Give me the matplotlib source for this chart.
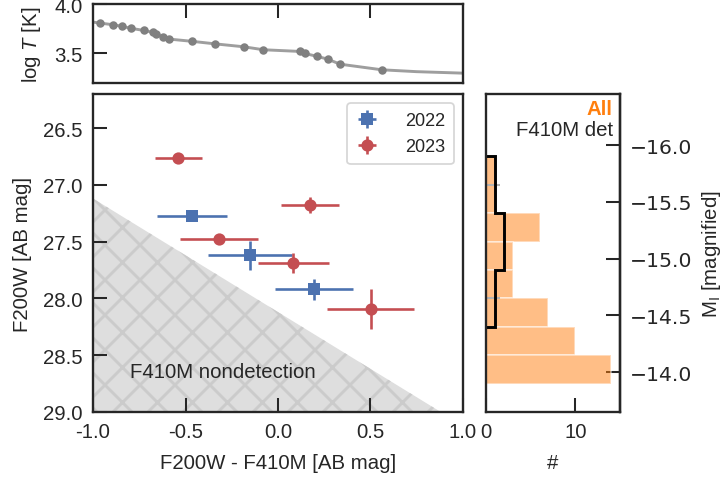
import numpy as np
import matplotlib
matplotlib.use('Agg')
import matplotlib.pyplot as plt
from matplotlib.ticker import FuncFormatter

# ========== 字体与样式 ==========
plt.rcParams['font.family'] = ['Liberation Sans', 'DejaVu Sans']
plt.rcParams['font.size'] = 7
plt.rcParams['axes.unicode_minus'] = False
plt.rcParams['mathtext.fontset'] = 'custom'
plt.rcParams['mathtext.rm'] = 'Liberation Sans'
plt.rcParams['mathtext.it'] = 'Liberation Sans:italic'
plt.rcParams['text.color'] = '0.15'
plt.rcParams['axes.labelcolor'] = '0.15'
plt.rcParams['xtick.color'] = '0.15'
plt.rcParams['ytick.color'] = '0.15'
plt.rcParams['axes.edgecolor'] = '0.15'
plt.rcParams['axes.linewidth'] = 0.8
plt.rcParams['hatch.linewidth'] = 1.0

# ========== 数据 ==========
# 2022 (方块)
col_2022 = [-0.465, -0.151, 0.196]
mag_2022 = [27.27, 27.62, 27.92]
xerr_2022 = [0.19, 0.228, 0.21]
yerr_2022 = [0.03, 0.13, 0.095]

# 2023 (圆点)
col_2023 = [-0.539, 0.173, -0.319, 0.083, 0.501]
mag_2023 = [26.76, 27.18, 27.48, 27.69, 28.09]
xerr_2023 = [0.127, 0.157, 0.21, 0.19, 0.236]
yerr_2023 = [0.03, 0.07, 0.04, 0.09, 0.175]

# F410M 探测极限
f410m_lim = 28.12

# 上图：温度 vs 颜色
track_col = [-1.0, -0.962, -0.890, -0.842, -0.796, -0.726, -0.676, -0.661, -0.620, -0.589,
             -0.463, -0.342, -0.185, -0.079, 0.117, 0.144, 0.211, 0.269, 0.335, 0.561, 0.75, 1.0]
track_logT = [3.817, 3.807, 3.790, 3.774, 3.754, 3.733, 3.713, 3.693, 3.668, 3.645,
              3.622, 3.597, 3.567, 3.537, 3.520, 3.500, 3.470, 3.442, 3.391, 3.334, 3.315, 3.300]
pt_col = track_col[1:-2]
pt_logT = track_logT[1:-2]

# 右图：全部样本直方图
hist_edges = [26.75, 27.0, 27.25, 27.5, 27.75, 28.0, 28.25, 28.5, 28.75]
hist_all = [1, 1, 6, 3, 3, 7, 10, 14]

mag_offset = 42.65  # F200W -> M_I

blue = '#4c72b0'
red = '#c44e52'
orange = '#ff7f0e'

fig = plt.figure(figsize=(725 / 210, 484 / 210), dpi=210)
ax_t = fig.add_axes([0.1283, 0.8264, 0.5103, 0.1632])
ax = fig.add_axes([0.1283, 0.1467, 0.5103, 0.657])
ax_h = fig.add_axes([0.6703, 0.1467, 0.1848, 0.657])

tick_kw = dict(direction='in', length=4.8, width=0.7)

# ========== 上图 ==========
ax_t.plot(track_col, track_logT, color='0.62', lw=1.0, zorder=1)
ax_t.plot(pt_col, pt_logT, 'o', color='0.5', ms=2.9, mew=0, zorder=2)
ax_t.set_xlim(-1, 1)
ax_t.set_ylim(3.2, 4.0)
ax_t.set_yticks([3.5, 4.0])
ax_t.set_xticks([-0.5, 0.0, 0.5])
ax_t.tick_params(axis='x', top=True, bottom=False, labelbottom=False, **tick_kw)
ax_t.tick_params(axis='y', left=True, right=False, **tick_kw)
ax_t.set_ylabel('log $T$ [K]')

# ========== 主图 ==========
xx = np.linspace(-1, 1, 200)
ax.fill_between(xx, xx + f410m_lim, 29.5, facecolor='#dedede', edgecolor='#cbcbcb',
                hatch='xx', linewidth=0, zorder=0)
ax.text(-0.8, 28.64, 'F410M nondetection', ha='left', va='center', fontsize=7)

eb_kw = dict(ms=4.2, elinewidth=0.9, capsize=1.6, capthick=1.2, mew=0, linestyle='none')
ax.errorbar(col_2022, mag_2022, xerr=xerr_2022, yerr=yerr_2022, fmt='s', color=blue,
            label='2022', **eb_kw)
ax.errorbar(col_2023, mag_2023, xerr=xerr_2023, yerr=yerr_2023, fmt='o', color=red,
            label='2023', **eb_kw)

ax.set_xlim(-1, 1)
ax.set_ylim(29.0, 26.2)
ax.set_xticks([-1.0, -0.5, 0.0, 0.5, 1.0])
ax.set_yticks([26.5, 27.0, 27.5, 28.0, 28.5, 29.0])
ax.tick_params(axis='both', **tick_kw)
ax.set_xlabel('F200W - F410M [AB mag]')
ax.set_ylabel('F200W [AB mag]')
leg = ax.legend(loc='upper right', fontsize=6.2, frameon=True, fancybox=True,
                edgecolor='0.8', handlelength=1.2, handletextpad=1.5, borderpad=0.5)
leg.get_frame().set_linewidth(0.6)

# ========== 右图：直方图 ==========
edges = np.array(hist_edges)
ax_h.barh(edges[:-1], hist_all, height=np.diff(edges), align='edge', color=orange,
          alpha=0.5, edgecolor='white', linewidth=0.6)
# 已探测源的阶梯直方图（只在有数据的范围内画）
det_mags = mag_2022 + mag_2023
det_edges = edges[edges <= np.ceil(max(det_mags) * 4) / 4]
ax_h.hist(det_mags, bins=det_edges, orientation='horizontal', histtype='step',
          color='k', lw=1.0)
ax_h.set_xlim(0, 15)
ax_h.set_ylim(29.0, 26.2)
ax_h.set_xticks([0, 10])
ax_h.set_yticks([27, 28])
ax_h.tick_params(axis='x', **tick_kw)
ax_h.tick_params(axis='y', labelleft=False, colors='0.7', **tick_kw)
ax_h.set_xlabel('#')
ax_h.text(0.948, 0.953, 'All', transform=ax_h.transAxes, ha='right', va='center',
          color=orange, fontweight='bold', fontsize=7)
ax_h.text(0.948, 0.887, 'F410M det', transform=ax_h.transAxes, ha='right', va='center',
          fontsize=7)

sec = ax_h.secondary_yaxis('right', functions=(lambda m: m - mag_offset,
                                               lambda M: M + mag_offset))
sec.set_yticks([-16.0, -15.5, -15.0, -14.5, -14.0])
sec.yaxis.set_major_formatter(FuncFormatter(lambda v, p: f'{v:.1f}'.replace('-', '\u2212')))
sec.tick_params(axis='y', **tick_kw)
for lab in sec.get_yticklabels():
    lab.set_fontfamily('DejaVu Sans')
sec.set_ylabel('M$_\\mathrm{I}$ [magnified]', labelpad=2.5)

fig.savefig('out.png', dpi=210)
